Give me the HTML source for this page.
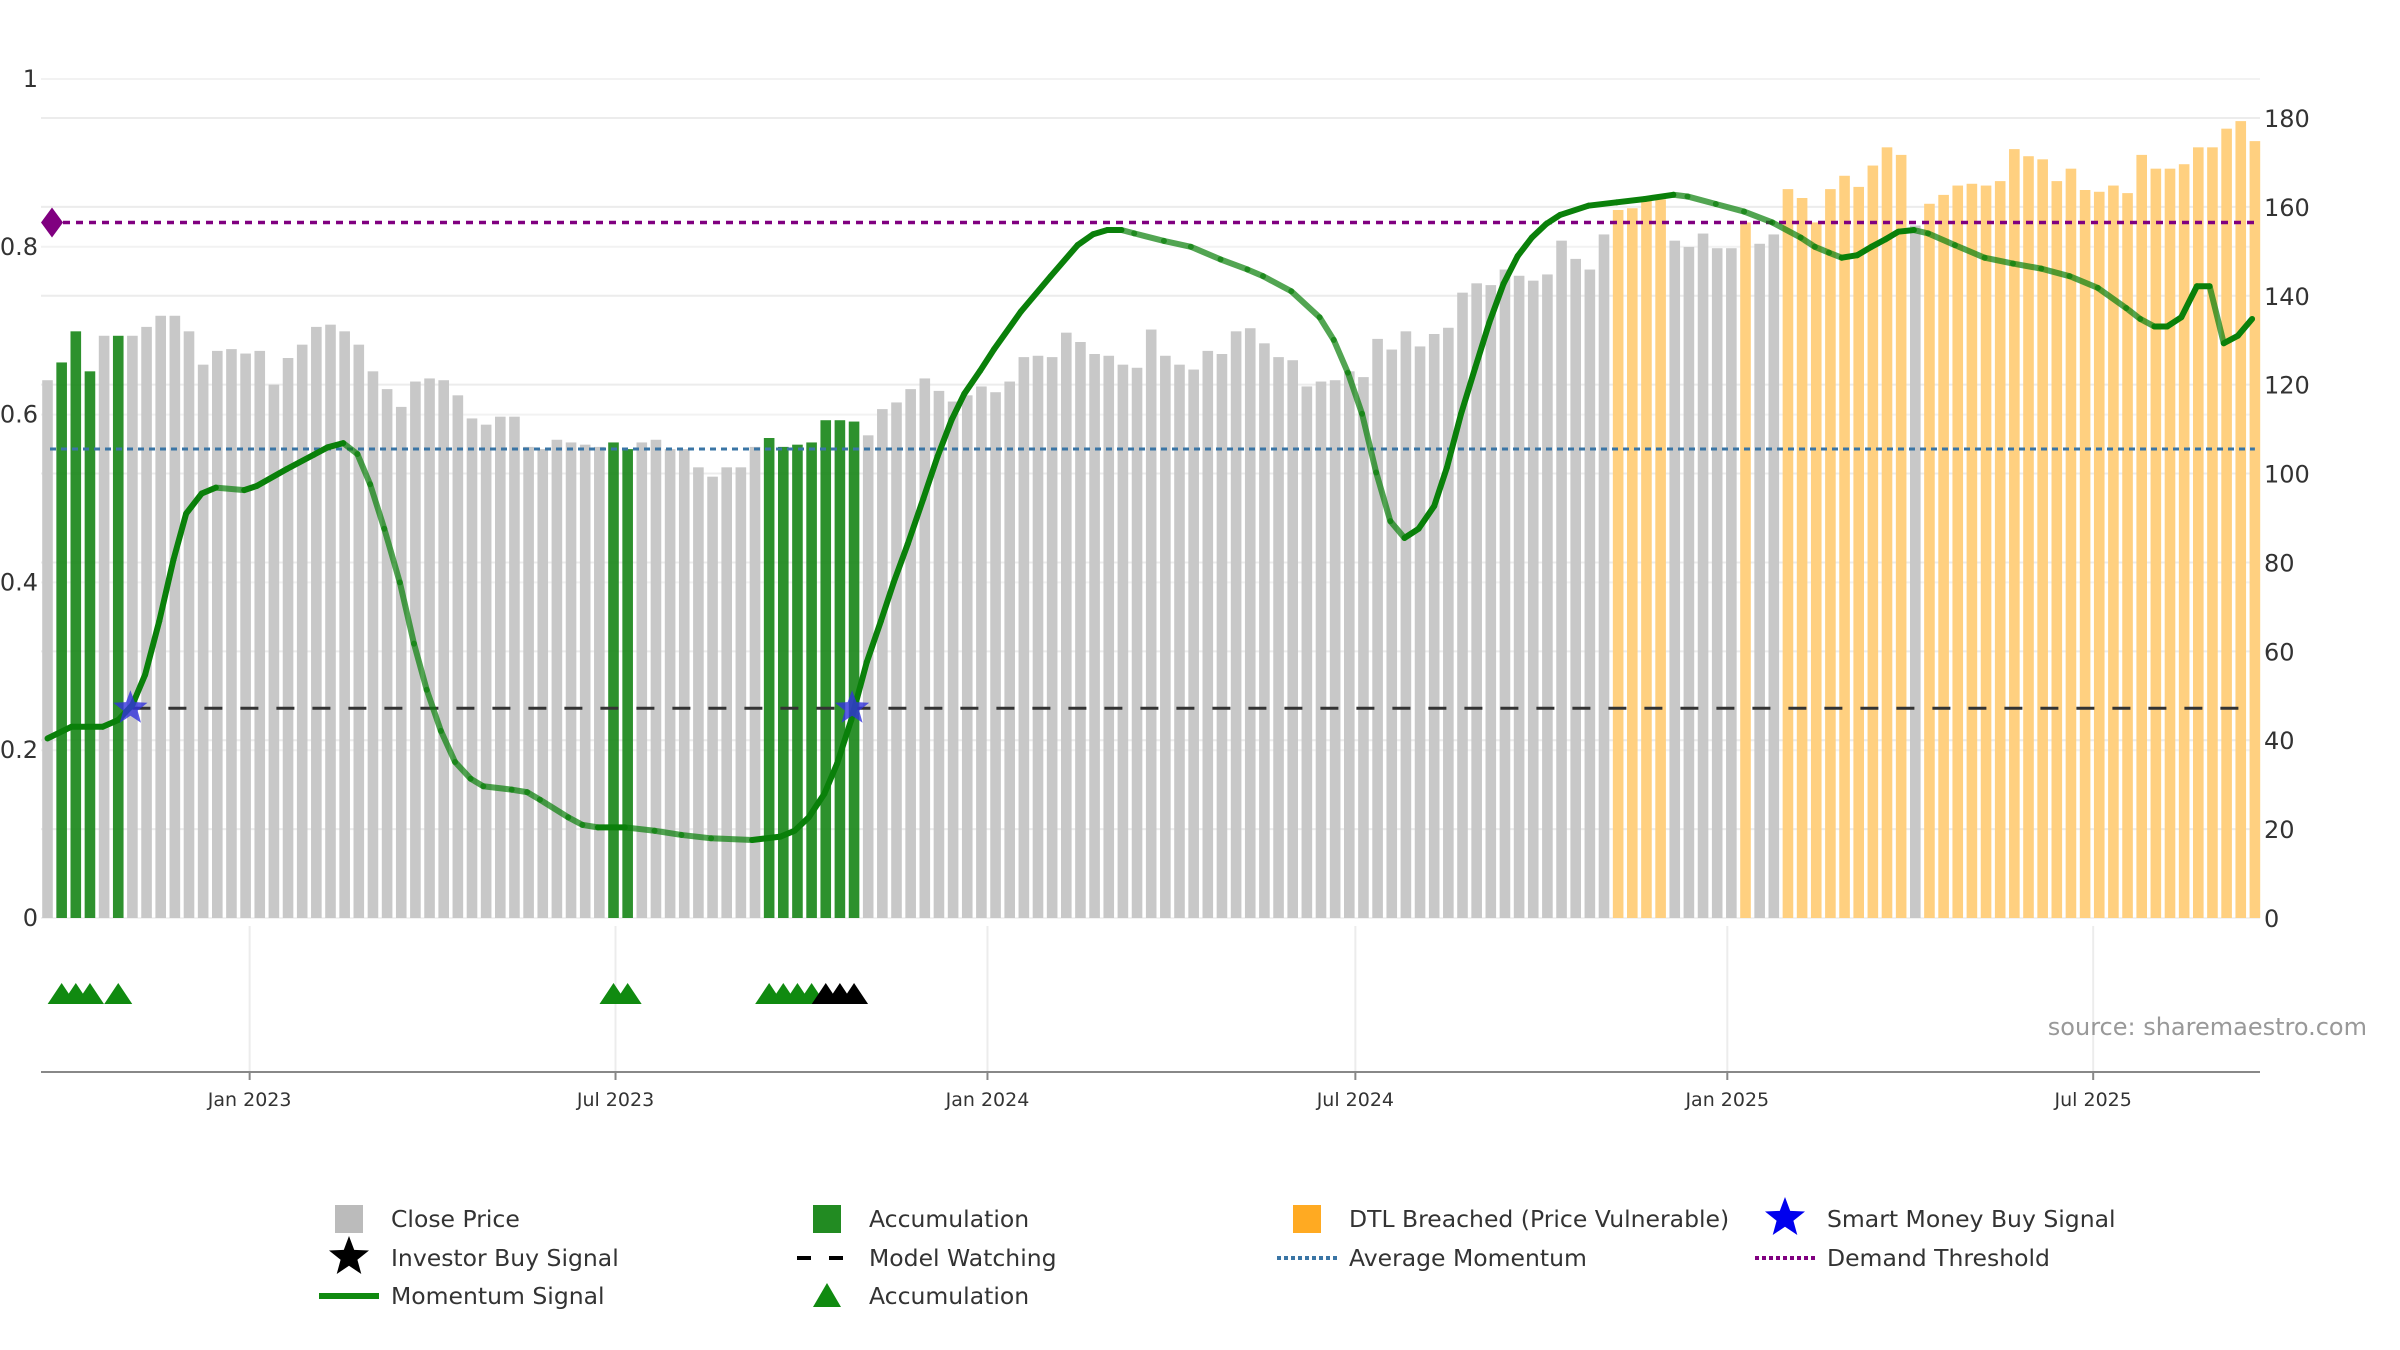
<!DOCTYPE html>
<html><head><meta charset="utf-8"><style>
html,body{margin:0;padding:0;background:#fff;width:2400px;height:1350px;overflow:hidden}
svg{display:block;font-family:"DejaVu Sans","Liberation Sans",sans-serif}
</style></head><body>
<svg id="chart" width="2400" height="1350" viewBox="0 0 2400 1350" xmlns="http://www.w3.org/2000/svg"></svg>
<script>
// ---- data ----
const startDate = Date.UTC(2022, 8, 23);
const closePrice = [121,125,132,123,131,131,131,133,135.5,135.5,132,124.5,127.6,128,127,127.6,120,126,129,133,133.5,132,129,123,119,115,120.7,121.4,121,117.6,112.4,111,112.8,112.8,106,105.5,107.6,107,106.5,106,107,105.5,107,107.6,105.5,105.5,101.4,99.3,101.4,101.4,106,108,106,106.5,107,112,112,111.7,108.6,114.5,116,119,121.4,118.6,116.2,117.6,119.6,118.3,120.7,126.2,126.5,126.2,131.7,129.6,126.9,126.5,124.5,123.8,132.4,126.5,124.5,123.4,127.6,126.9,132,132.7,129.3,126.2,125.5,119.6,120.7,121,123,121.7,130.3,127.9,132,128.6,131.4,132.8,140.7,142.8,142.4,145.9,144.5,143.4,144.8,152.4,148.3,145.9,153.8,159.3,159.7,161.7,161.7,152.4,151,154,150.7,150.7,156.5,151.7,153.8,164,162,156.5,164,167,164.5,169.3,173.4,171.7,155.8,160.7,162.7,164.8,165.2,164.8,165.8,173,171.4,170.7,165.8,168.6,163.8,163.4,164.8,163.1,171.7,168.6,168.6,169.6,173.4,173.4,177.6,179.3,174.8];
const accumulationWeeks = [1,2,3,5,40,41,51,52,53,54,55,56,57];
const dtlBreachedWeeks = [111,112,113,114,120,123,124,125,126,127,128,129,130,131,133,134,135,136,137,138,139,140,141,142,143,144,145,146,147,148,149,150,151,152,153,154,155,156];
const momentumWeeks = [0,1.7,3.9,5.0,6.0,6.9,7.9,8.9,9.8,10.9,11.9,13.9,14.8,16.9,18.8,19.8,20.9,21.9,22.8,23.8,24.9,25.9,26.8,27.8,28.8,29.9,30.8,32.8,33.9,34.8,36.8,37.8,38.9,40.8,42.9,44.8,46.9,49.8,51.8,52.8,53.8,54.9,55.8,56.8,57.9,58.9,59.8,60.8,61.9,62.9,63.9,64.8,65.9,66.9,68.8,70.9,72.8,73.9,74.9,75.9,76.8,78.9,80.8,82.9,84.8,85.9,87.9,89.9,90.9,91.9,92.9,93.9,94.9,95.9,96.9,98.0,98.9,99.9,100.9,101.9,102.9,103.9,104.9,105.9,106.9,108.9,110.9,112.9,114.9,115.9,117.9,119.9,121.9,123.9,124.9,125.9,126.8,127.9,128.9,129.9,130.8,131.9,132.9,134.8,136.9,138.9,140.9,142.9,144.9,146.9,147.9,148.9,149.8,150.8,151.9,152.8,153.8,154.8,155.8];
const momentumValues = [.214,.228,.228,.236,.254,.29,.354,.427,.482,.506,.513,.51,.515,.535,.552,.561,.566,.553,.517,.464,.4,.327,.272,.223,.186,.166,.157,.153,.15,.141,.12,.111,.108,.108,.104,.099,.095,.093,.097,.104,.12,.148,.184,.236,.305,.354,.4,.446,.5,.55,.594,.625,.652,.678,.723,.765,.802,.815,.82,.82,.816,.807,.8,.785,.773,.765,.747,.716,.689,.65,.601,.531,.473,.453,.464,.491,.537,.601,.656,.71,.756,.789,.811,.827,.838,.849,.853,.857,.862,.86,.851,.842,.829,.811,.8,.793,.787,.79,.8,.809,.818,.82,.816,.802,.787,.78,.774,.765,.751,.727,.714,.705,.705,.716,.753,.753,.685,.694,.714];
const demandThreshold = 0.829;
const averageMomentum = 0.559;
const modelWatching = 0.25;
const smartMoneyWeeks = [6, 57];
const accTriangleWeeks = [1,2,3,5,40,41,51,52,53,54];
const investorTriangleWeeks = [55,56,57];
const leftTicks = [0,0.2,0.4,0.6,0.8,1];
const leftTickLabels = ["0","0.2","0.4","0.6","0.8","1"];
const rightTicks = [0,20,40,60,80,100,120,140,160,180];
const xTickDates = [[2023,0],[2023,6],[2024,0],[2024,6],[2025,0],[2025,6]];
const xTickLabels = ["Jan 2023","Jul 2023","Jan 2024","Jul 2024","Jan 2025","Jul 2025"];

// ---- scales ----
const svg = document.getElementById('chart');
const NS = 'http://www.w3.org/2000/svg';
const X0 = 47.5, WEEK = 14.15, PL = 41, PR = 2260, YB = 918;
const xW = w => X0 + w * WEEK;
const xDate = (y, m) => xW((Date.UTC(y, m, 1) - startDate) / (7 * 86400000));
const yL = v => YB - v * (YB - 79);
const yR = v => YB - v / 180 * (YB - 118);
function el(tag, attrs, parent) {
  const e = document.createElementNS(NS, tag);
  for (const k in attrs) e.setAttribute(k, attrs[k]);
  (parent || svg).appendChild(e);
  return e;
}

// gridlines
rightTicks.forEach((t, i) => {
  const g = el('line', {x1: PL, x2: PR, y1: yR(t), y2: yR(t), stroke: '#ececec', 'stroke-width': 2});
  
  
  const tx = el('text', {x: 2264, y: yR(t) + 9, 'font-size': 24, fill: '#333'});
  tx.textContent = t;
  
  
});
leftTicks.forEach((t, i) => {
  const g = el('line', {x1: PL, x2: PR, y1: yL(t), y2: yL(t), stroke: '#f2f2f2', 'stroke-width': 2});
  
  
  const tx = el('text', {x: 38, y: yL(t) + 8, 'font-size': 24, fill: '#333', 'text-anchor': 'end'});
  tx.textContent = leftTickLabels[i];
  
  
});

// bars
closePrice.forEach((v, i) => {
  let c = '#c8c8c8';
  if (accumulationWeeks.includes(i)) c = '#228b22';
  else if (dtlBreachedWeeks.includes(i)) c = '#ffd080';
  const b = el('rect', {x: xW(i) - 5.3, y: yR(v), width: 10.6, height: YB - yR(v), fill: c, opacity: accumulationWeeks.includes(i) ? 0.95 : 1});
  
  
});

// horizontal reference lines
const lastX = xW(closePrice.length - 1);
let l = el('line', {x1: 50, x2: lastX, y1: yL(demandThreshold), y2: yL(demandThreshold), stroke: '#800080', 'stroke-width': 3.5, 'stroke-dasharray': '7 6'});


l = el('line', {x1: 50, x2: lastX, y1: yL(averageMomentum), y2: yL(averageMomentum), stroke: '#3a75a5', 'stroke-width': 3, 'stroke-dasharray': '6 5'});


l = el('line', {x1: xW(smartMoneyWeeks[0]), x2: lastX, y1: yL(modelWatching), y2: yL(modelWatching), stroke: '#333', 'stroke-width': 3, 'stroke-dasharray': '18 18'});


const d = el('path', {d: `M${PL},${yL(demandThreshold)} l11,-15 l11,15 l-11,15z`, fill: '#800080'});



// momentum line
for (let i = 0; i < momentumWeeks.length - 1; i++) {
  const rising = momentumValues[i + 1] >= momentumValues[i];
  const s = el('line', {x1: xW(momentumWeeks[i]), y1: yL(momentumValues[i]), x2: xW(momentumWeeks[i + 1]), y2: yL(momentumValues[i + 1]), stroke: '#0a800a', 'stroke-width': 6, 'stroke-linecap': 'round', opacity: rising ? 1 : 0.7});
  
  
}

function star(cx, cy, r, fill, name) {
  let p = '';
  for (let k = 0; k < 10; k++) {
    const a = -Math.PI / 2 + k * Math.PI / 5, rr = k % 2 ? r * 0.42 : r;
    p += (k ? 'L' : 'M') + (cx + rr * Math.cos(a)).toFixed(1) + ',' + (cy + rr * Math.sin(a)).toFixed(1);
  }
  const s = el('path', {d: p + 'Z', fill: fill});
  
  
  return s;
}
smartMoneyWeeks.forEach(w => { star(xW(w) - 2, yL(modelWatching), 18, 'rgba(50,50,220,0.8)', 'smart-money-buy-star'); });

// lower panel
xTickDates.forEach((dd, i) => {
  const x = xDate(dd[0], dd[1]);
  const g = el('line', {x1: x, x2: x, y1: 926, y2: 1072, stroke: '#ececec', 'stroke-width': 2});
  
  
  const t = el('line', {x1: x, x2: x, y1: 1072, y2: 1080, stroke: '#888', 'stroke-width': 2});
  
  
  const tx = el('text', {x: x, y: 1106, 'font-size': 19, fill: '#333', 'text-anchor': 'middle'});
  tx.textContent = xTickLabels[i];
  
  
});
const ax = el('line', {x1: PL, x2: PR, y1: 1072, y2: 1072, stroke: '#888', 'stroke-width': 2});


function tri(w, fill, name) {
  const x = xW(w), y = 994;
  const t = el('path', {d: `M${x - 14},${y + 10} L${x},${y - 11} L${x + 14},${y + 10}Z`, fill: fill});
  
  
}
accTriangleWeeks.forEach(w => tri(w, '#108a10', 'accumulation-triangle'));
investorTriangleWeeks.forEach(w => tri(w, '#000', 'investor-buy-triangle'));
const src = el('text', {x: 2367, y: 1035, 'font-size': 24, fill: '#999', 'text-anchor': 'end'});
src.textContent = 'source: sharemaestro.com';



// legend
const legendLabels = ["Close Price","Accumulation","DTL Breached (Price Vulnerable)","Smart Money Buy Signal","Investor Buy Signal","Model Watching","Average Momentum","Demand Threshold","Momentum Signal","Accumulation"];
const colX = [349, 827, 1307, 1785], rowY = [1219, 1258, 1296];
legendLabels.forEach((lab, i) => {
  const cx = colX[i % 4], cy = rowY[Math.floor(i / 4)];
  const g = el('g', {});
  
  
  if (i === 0 || i === 1 || i === 2) el('rect', {x: cx - 14, y: cy - 14, width: 28, height: 28, fill: ['#bbbbbb', '#228b22', '#ffaa22'][i]}, g);
  else if (i === 3 || i === 4) { const s = star(cx, cy - 1, 21, i === 3 ? '#0000ee' : '#000', 'legend-star'); g.appendChild(s); }
  else if (i === 5) el('line', {x1: cx - 30, x2: cx + 30, y1: cy, y2: cy, stroke: '#000', 'stroke-width': 4, 'stroke-dasharray': '14 18'}, g);
  else if (i === 6 || i === 7) el('line', {x1: cx - 30, x2: cx + 30, y1: cy, y2: cy, stroke: i === 6 ? '#3a75a5' : '#800080', 'stroke-width': 4, 'stroke-dasharray': '4 3'}, g);
  else if (i === 8) el('line', {x1: cx - 30, x2: cx + 30, y1: cy, y2: cy, stroke: '#108a10', 'stroke-width': 6}, g);
  else el('path', {d: `M${cx - 14},${cy + 11} L${cx},${cy - 13} L${cx + 14},${cy + 11}Z`, fill: '#108a10'}, g);
  const t = el('text', {x: cx + 42, y: cy + 8, 'font-size': 23.5, fill: '#333'}, g);
  t.textContent = lab;
});
</script>
</body></html>
